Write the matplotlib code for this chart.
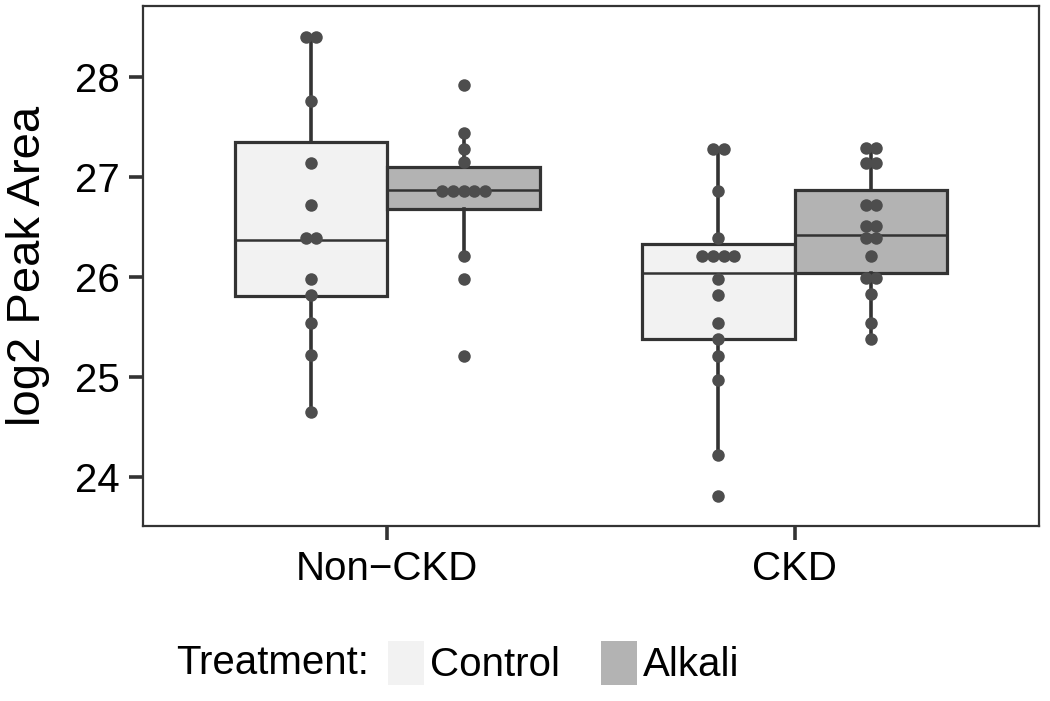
import numpy as np
import matplotlib
matplotlib.use('Agg')
import matplotlib.pyplot as plt
from matplotlib.patches import Patch

plt.rcParams['font.family'] = ['Liberation Sans', 'DejaVu Sans']

groups = ['Non\u2212CKD', 'CKD']
treatments = ['Control', 'Alkali']
fills = {'Control': '#f2f2f2', 'Alkali': '#b3b3b3'}

# box statistics: (q1, median, q3, whisker low, whisker high)
box_nonckd_control = (25.81, 26.37, 27.345, 24.65, 28.40)
box_nonckd_alkali = (26.68, 26.87, 27.10, 26.21, 27.44)
box_ckd_control = (25.38, 26.04, 26.33, 24.22, 27.28)
box_ckd_alkali = (26.04, 26.42, 26.87, 25.38, 27.29)

# individual points (dotplot), repeated values are stacked side by side
pts_nonckd_control = [28.40, 28.40, 27.76, 27.14, 26.72, 26.39, 26.39,
                      25.98, 25.82, 25.54, 25.22, 24.65]
pts_nonckd_alkali = [27.92, 27.44, 27.28, 27.15, 26.86, 26.86, 26.86,
                     26.86, 26.86, 26.21, 25.98, 25.21]
pts_ckd_control = [27.28, 27.28, 26.86, 26.39, 26.21, 26.21, 26.21, 26.21,
                   25.98, 25.82, 25.54, 25.38, 25.21, 24.97, 24.22, 23.81]
pts_ckd_alkali = [27.29, 27.29, 27.14, 27.14, 26.72, 26.72, 26.51, 26.51,
                  26.39, 26.39, 26.21, 25.99, 25.99, 25.83, 25.54, 25.38]

boxes = [(box_nonckd_control, pts_nonckd_control, 0, 'Control'),
         (box_nonckd_alkali, pts_nonckd_alkali, 0, 'Alkali'),
         (box_ckd_control, pts_ckd_control, 1, 'Control'),
         (box_ckd_alkali, pts_ckd_alkali, 1, 'Alkali')]

edge = '#333333'
dotcol = '#4d4d4d'
width = 0.375
dot_step = 0.0263

fig = plt.figure(figsize=(10.5, 7.01), dpi=100)
ax = fig.add_axes([143/1050, 1 - 526/701, (1039 - 143)/1050, (526 - 6)/701])

for stats, pts, gi, trt in boxes:
    dodge = -width/2 if trt == 'Control' else width/2
    xc = gi + 1 + dodge
    q1, med, q3, lo, hi = stats
    st = [dict(q1=q1, med=med, q3=q3, whislo=lo, whishi=hi, fliers=[])]
    ax.bxp(st, positions=[xc], widths=width, patch_artist=True,
           showcaps=False, showfliers=False,
           boxprops=dict(facecolor=fills[trt], edgecolor=edge, linewidth=2.3),
           whiskerprops=dict(color=edge, linewidth=2.6),
           medianprops=dict(color=edge, linewidth=1.8),
           zorder=2)
    vals, counts = np.unique(pts, return_counts=True)
    for v, n in zip(vals, counts):
        offs = (np.arange(n) - (n - 1)/2) * dot_step
        ax.plot(xc + offs, [v]*n, 'o', color=dotcol, ms=9, mew=0,
                zorder=3)

ax.set_xlim(0.4, 2.6)
ax.set_ylim(23.507, 28.707)
ax.set_xticks([1, 2])
ax.set_xticklabels(groups)
ax.set_yticks([24, 25, 26, 27, 28])
ax.tick_params(axis='both', length=10, width=2.6, color=edge,
               labelsize=29, labelcolor='black', pad=7)
for sp in ax.spines.values():
    sp.set_color(edge)
    sp.set_linewidth(1.6)
ax.set_ylabel('log2 Peak Area', fontsize=34)
ax.yaxis.set_label_coords(-0.104, 0.5)

# legend at the bottom: title on the left, keys in one row
handles = [Patch(facecolor=fills[t], edgecolor='none') for t in treatments]
leg = fig.legend(handles, treatments, loc='center left', ncol=2,
                 bbox_to_anchor=(388/1050, 1 - 663/701), frameon=False,
                 fontsize=29, handlelength=0.9, handleheight=1.34,
                 handletextpad=0.15, columnspacing=1.0,
                 borderpad=0, borderaxespad=0)
fig.text(176/1050, 1 - 663/701, 'Treatment:', va='center', ha='left',
         fontsize=29)

fig.savefig('out.png', dpi=100)
